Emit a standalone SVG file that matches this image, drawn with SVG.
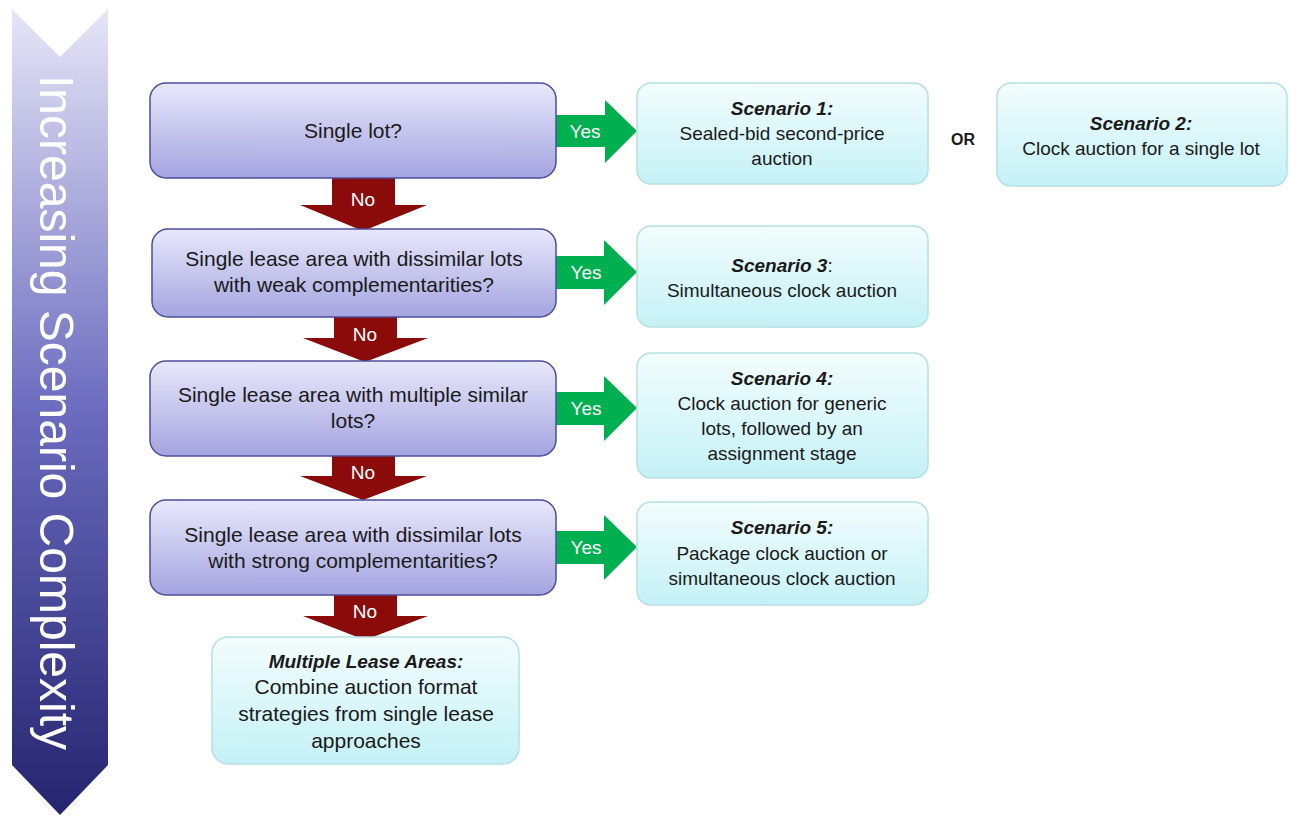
<svg xmlns="http://www.w3.org/2000/svg" width="1289" height="817" viewBox="0 0 1289 817">
<defs>
<linearGradient id="gBanner" x1="0" y1="0" x2="0" y2="1">
<stop offset="0" stop-color="#e6e6f7"/>
<stop offset="0.5" stop-color="#6a6abf"/>
<stop offset="1" stop-color="#24246f"/>
</linearGradient>
<linearGradient id="gDec" x1="0" y1="0" x2="0" y2="1">
<stop offset="0" stop-color="#e8e8fb"/>
<stop offset="1" stop-color="#a4a4e0"/>
</linearGradient>
<linearGradient id="gScen" x1="0" y1="0" x2="0" y2="1">
<stop offset="0" stop-color="#f3fdfd"/>
<stop offset="1" stop-color="#c4f1f6"/>
</linearGradient>
</defs>
<style>
.dec{fill:url(#gDec);stroke:#4c4c9c;stroke-width:1.5}
.scen{fill:url(#gScen);stroke:#b6e0e2;stroke-width:1.5}
.t{font-family:"Liberation Sans",Arial,sans-serif;fill:#1a1a1a;text-anchor:middle}
.dt{font-size:21px}
.st{font-size:19px}
.mt{font-size:21px}
.b{font-weight:bold;font-style:italic}
.no{fill:#8b0b0b}
.yes{fill:#00b050}
.lbl{font-family:"Liberation Sans",Arial,sans-serif;font-size:19px;fill:#ffffff;text-anchor:middle}
</style>
<g id="banner">
<polygon points="12,9 60,57 108,9 108,765 60,815 12,765" fill="url(#gBanner)"/>
<text transform="translate(40,75) rotate(90)" font-family="'Liberation Sans',Arial,sans-serif" font-size="49" fill="#ffffff" textLength="675" lengthAdjust="spacingAndGlyphs">Increasing Scenario Complexity</text>
</g>
<g id="connectors">
<g id="no1"><polygon class="no" points="332,178 395,178 395,205 427,205 363,231 300,205 332,205"/><text class="lbl" x="363" y="206">No</text></g>
<g id="no2"><polygon class="no" points="334,317 397,317 397,338 428,338 365,362 303,338 334,338"/><text class="lbl" x="365" y="341">No</text></g>
<g id="no3"><polygon class="no" points="332,456 395,456 395,476 427,476 363,500 300,476 332,476"/><text class="lbl" x="363" y="479">No</text></g>
<g id="no4"><polygon class="no" points="334,595 397,595 397,616 428,616 365,640 303,616 334,616"/><text class="lbl" x="365" y="618">No</text></g>
<g id="yes1"><polygon class="yes" points="553,115 605,115 605,100 637,131 605,163 605,147 553,147"/><text class="lbl" x="585" y="138">Yes</text></g>
<g id="yes2"><polygon class="yes" points="556,256 604,256 604,240 637,272 604,305 604,289 556,289"/><text class="lbl" x="586" y="279">Yes</text></g>
<g id="yes3"><polygon class="yes" points="556,392 604,392 604,376 637,408 604,441 604,425 556,425"/><text class="lbl" x="586" y="415">Yes</text></g>
<g id="yes4"><polygon class="yes" points="556,531 604,531 604,515 637,547 604,580 604,564 556,564"/><text class="lbl" x="586" y="554">Yes</text></g>
</g>
<g id="q1"><rect class="dec" x="150" y="83" width="406" height="95" rx="16"/><text class="t dt" x="353" y="138">Single lot?</text></g>
<g id="q2"><rect class="dec" x="152" y="229" width="404" height="88" rx="16"/><text class="t dt" x="354" y="266">Single lease area with dissimilar lots</text><text class="t dt" x="354" y="292">with weak complementarities?</text></g>
<g id="q3"><rect class="dec" x="150" y="361" width="406" height="95" rx="16"/><text class="t dt" x="353" y="402">Single lease area with multiple similar</text><text class="t dt" x="353" y="428">lots?</text></g>
<g id="q4"><rect class="dec" x="150" y="500" width="406" height="95" rx="16"/><text class="t dt" x="353" y="542">Single lease area with dissimilar lots</text><text class="t dt" x="353" y="568">with strong complementarities?</text></g>
<g id="s1"><rect class="scen" x="637" y="83" width="291" height="101" rx="14"/><text class="t st b" x="782" y="115">Scenario 1:</text><text class="t st" x="782" y="140">Sealed-bid second-price</text><text class="t st" x="782" y="165">auction</text></g>
<g id="or"><text class="t" x="963" y="145" font-size="16" font-weight="bold">OR</text></g>
<g id="s2"><rect class="scen" x="997" y="83" width="290" height="103" rx="14"/><text class="t st b" x="1141" y="130">Scenario 2:</text><text class="t st" x="1141" y="155">Clock auction for a single lot</text></g>
<g id="s3"><rect class="scen" x="637" y="226" width="291" height="101" rx="14"/><text class="t st" x="782" y="272"><tspan class="b">Scenario 3</tspan>:</text><text class="t st" x="782" y="297">Simultaneous clock auction</text></g>
<g id="s4"><rect class="scen" x="637" y="353" width="291" height="125" rx="14"/><text class="t st b" x="782" y="385">Scenario 4:</text><text class="t st" x="782" y="410">Clock auction for generic</text><text class="t st" x="782" y="435">lots, followed by an</text><text class="t st" x="782" y="460">assignment stage</text></g>
<g id="s5"><rect class="scen" x="637" y="502" width="291" height="103" rx="14"/><text class="t st b" x="782" y="534">Scenario 5:</text><text class="t st" x="782" y="560">Package clock auction or</text><text class="t st" x="782" y="585">simultaneous clock auction</text></g>
<g id="multi"><rect class="scen" x="212" y="637" width="307" height="127" rx="16"/><text class="t st b" x="366" y="668">Multiple Lease Areas:</text><text class="t mt" x="366" y="694">Combine auction format</text><text class="t mt" x="366" y="721">strategies from single lease</text><text class="t mt" x="366" y="748">approaches</text></g>
</svg>
